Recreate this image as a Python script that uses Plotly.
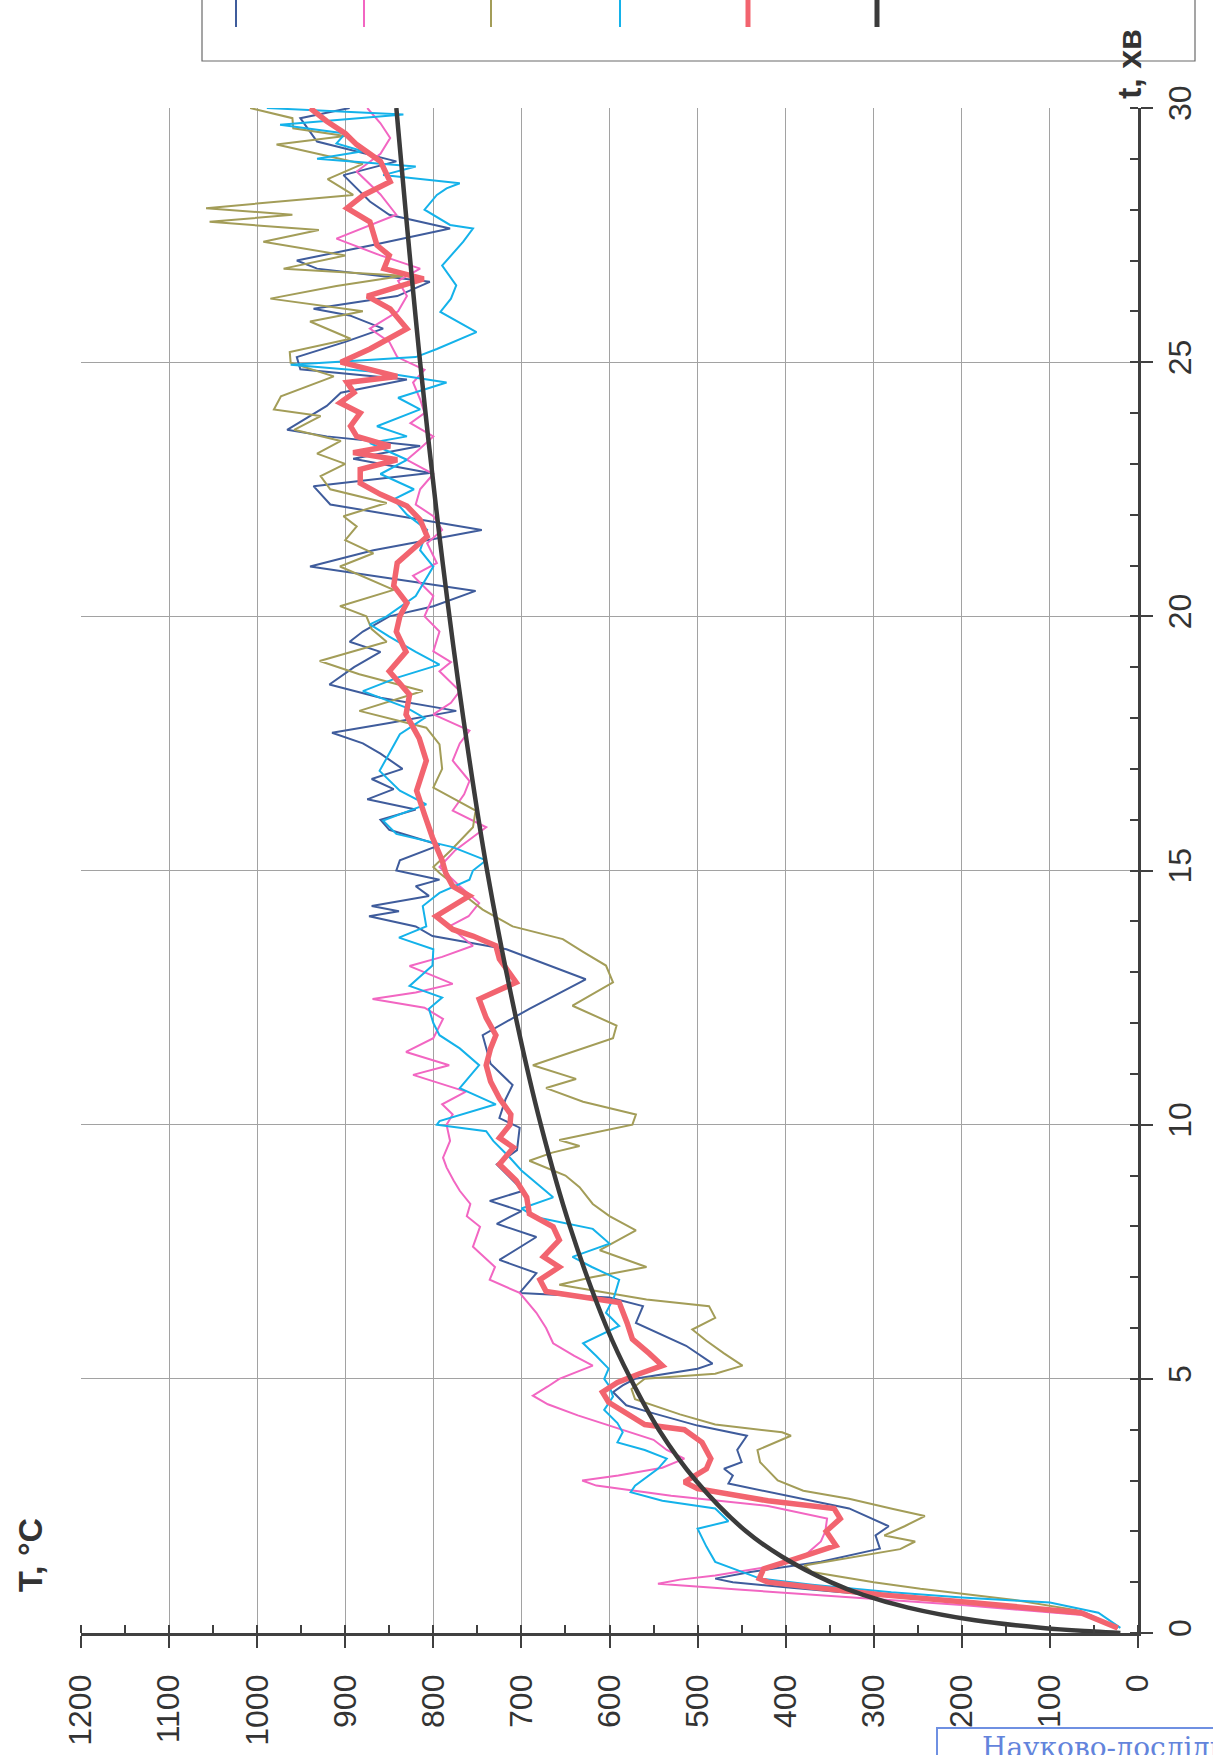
import plotly.graph_objects as go

# ---------------- data ----------------
# time, min  /  temperature, °C
t_blue = [0.1, 0.4, 0.6, 0.75, 0.9, 1.0, 1.07, 1.2, 1.4, 1.66, 1.92, 2.1, 2.45, 2.7, 2.94, 3.1, 3.23, 3.36, 3.6, 3.88,
          4.08, 4.35, 4.48, 4.74, 4.87, 5.0, 5.2, 5.3, 5.65, 6.1, 6.43, 6.6, 6.69, 7.08, 7.34, 7.79, 8.05, 8.3, 8.5, 8.7,
          9.0, 9.22, 9.5, 9.94, 10.13, 10.5, 10.78, 11.2, 11.76, 12.28, 12.86, 13.45, 13.71, 13.9, 14.1, 14.2, 14.3, 14.5,
          14.69, 14.82, 15.0, 15.2, 15.5, 15.8, 16.0, 16.2, 16.4, 16.6, 16.8, 17.0, 17.3, 17.5, 17.71, 17.9, 18.14, 18.4,
          18.66, 19.0, 19.3, 19.5, 19.7, 20.0, 20.2, 20.5, 20.98, 21.3, 21.7, 22.2, 22.56, 22.82, 23.1, 23.35, 23.54,
          23.67, 24.14, 24.4, 24.66, 24.86, 25.1, 25.4, 25.66, 25.92, 26.05, 26.3, 26.58, 26.84, 27.0, 27.3, 27.63,
          27.9, 28.16, 28.68, 28.95, 29.34, 29.8, 30.0]
T_blue = [23, 60, 180, 300, 400, 460, 480, 440, 360, 293, 298, 283, 328, 400, 465, 460, 470, 450, 455, 444,
          500, 556, 581, 596, 585, 571, 500, 483, 513, 570, 562, 600, 702, 683, 725, 683, 728, 700, 736, 698,
          715, 728, 705, 702, 725, 718, 710, 735, 744, 691, 627, 717, 801, 820, 873, 839, 870, 805,
          820, 793, 842, 838, 793, 850, 860, 820, 875, 845, 870, 835, 860, 880, 915, 850, 774, 860,
          918, 890, 860, 895, 880, 850, 800, 752, 940, 868, 745, 917, 936, 804, 891, 815, 921,
          966, 921, 905, 830, 951, 955, 900, 857, 895, 936, 841, 804, 932, 955, 870, 781,
          850, 872, 902, 842, 932, 951, 895]

t_pink = [0.1, 0.35, 0.55, 0.7, 0.85, 0.97, 1.05, 1.13, 1.3, 1.5, 1.8, 2.0, 2.25, 2.5, 2.7, 2.9, 3.0, 3.1, 3.25, 3.43,
          3.6, 3.8, 4.08, 4.28, 4.5, 4.67, 4.85, 5.0, 5.26, 5.45, 5.7, 6.0, 6.3, 6.69, 6.95, 7.2, 7.47, 7.6, 7.99, 8.2,
          8.44, 8.7, 8.9, 9.16, 9.35, 9.68, 10.0, 10.2, 10.4, 10.65, 10.98, 11.17, 11.43, 11.7, 12.08, 12.3, 12.47,
          12.6, 12.77, 13.12, 13.3, 13.52, 13.9, 14.1, 14.36, 14.69, 15.07, 15.4, 15.85, 16.18, 16.5, 16.76, 17.16,
          17.5, 17.75, 18.07, 18.3, 18.53, 18.92, 19.1, 19.31, 19.7, 20.0, 20.4, 20.8, 21.05, 21.44, 21.7, 21.97,
          22.2, 22.5, 22.8, 23.08, 23.3, 23.54, 23.8, 24.0, 24.27, 24.6, 24.85, 25.1, 25.4, 25.66, 26.0, 26.3, 26.6,
          26.84, 27.1, 27.43, 27.7, 27.9, 28.3, 28.75, 29.1, 29.41, 29.7, 30.0]
T_pink = [23, 60, 200, 330, 450, 545, 520, 480, 420, 380, 360, 355, 353, 420, 530, 615, 631, 590, 540, 515,
          535, 550, 601, 636, 670, 687, 670, 657, 619, 640, 664, 672, 683, 702, 736, 730, 747, 755, 747, 762,
          758, 770, 777, 785, 789, 781, 785, 778, 790, 763, 823, 782, 831, 800, 789, 810, 869,
          820, 778, 827, 790, 755, 782, 760, 748, 770, 793, 775, 740, 778, 765, 759, 778,
          770, 759, 800, 780, 770, 793, 780, 800, 793, 810, 800, 823, 796, 807, 790, 800,
          820, 815, 800, 830, 815, 800, 826, 810, 815, 823, 810, 841, 850, 872, 840, 830, 840,
          815, 860, 910, 870, 842, 860, 887, 860, 849, 860, 875]

t_olive = [0.1, 0.45, 0.65, 0.8, 0.87, 1.0, 1.2, 1.33, 1.5, 1.65, 1.8, 1.92, 2.1, 2.3, 2.44, 2.64, 2.8, 3.0, 3.2, 3.36,
           3.6, 3.88, 3.95, 4.1, 4.3, 4.6, 4.8, 5.0, 5.1, 5.26, 5.5, 5.75, 5.97, 6.2, 6.43, 6.56, 6.85, 7.0, 7.2, 7.53,
           7.92, 8.2, 8.44, 8.77, 9.0, 9.29, 9.45, 9.58, 9.7, 10.0, 10.2, 10.45, 10.72, 10.9, 11.17, 11.45, 11.7,
           11.95, 12.34, 12.8, 13.13, 13.4, 13.65, 13.9, 14.23, 14.49, 14.7, 14.95, 15.07, 15.4, 15.85, 16.18, 16.63,
           17.0, 17.48, 17.81, 18.14, 18.53, 18.86, 19.12, 19.5, 19.75, 20.0, 20.2, 20.52, 20.98, 21.24, 21.5, 21.77,
           21.97, 22.23, 22.5, 22.76, 23.0, 23.2, 23.45, 23.67, 23.94, 24.07, 24.33, 24.72, 24.99, 25.2, 25.46, 25.8,
           26.0, 26.25, 26.5, 26.7, 26.84, 27.1, 27.37, 27.6, 27.76, 27.9, 28.03, 28.29, 28.6, 28.9, 29.28, 29.45,
           29.6, 29.8, 30.0]
T_olive = [23, 70, 140, 210, 247, 300, 370, 379, 320, 270, 253, 288, 265, 242, 278, 328, 380, 409, 420, 429,
           432, 394, 404, 480, 520, 571, 575, 560, 480, 449, 470, 490, 506, 480, 487, 558, 657, 620, 558, 611,
           570, 600, 619, 634, 650, 691, 665, 634, 657, 574, 570, 630, 672, 638, 687, 640, 596,
           592, 642, 596, 604, 630, 653, 710, 744, 763, 775, 793, 800, 780, 755, 752, 800,
           790, 793, 808, 884, 812, 884, 929, 853, 870, 876, 906, 845, 906, 868, 900, 887,
           902, 853, 917, 928, 900, 932, 905, 958, 928, 981, 973, 913, 962, 963, 894, 940,
           880, 985, 910, 834, 970, 900, 993, 930, 1054, 960, 1058, 891, 920, 880, 978, 900,
           959, 960, 1008]

t_cyan = [0.1, 0.4, 0.6, 0.7, 0.8, 0.95, 1.07, 1.4, 1.7, 2.05, 2.2, 2.45, 2.6, 2.77, 2.9, 3.1, 3.23, 3.43, 3.6, 3.75,
          3.95, 4.13, 4.39, 4.65, 4.85, 5.0, 5.2, 5.45, 5.7, 6.04, 6.3, 6.6, 6.95, 7.2, 7.4, 7.66, 7.95, 8.18, 8.35,
          8.57, 8.9, 9.1, 9.35, 9.68, 9.87, 10.0, 10.07, 10.4, 10.72, 11.17, 11.5, 11.76, 12.0, 12.28, 12.5, 12.73,
          13.13, 13.45, 13.68, 13.9, 14.3, 14.56, 14.82, 15.0, 15.2, 15.46, 15.72, 15.98, 16.3, 16.57, 16.96, 17.3,
          17.68, 18.0, 18.2, 18.53, 18.8, 19.05, 19.3, 19.6, 19.84, 20.0, 20.4, 20.98, 21.3, 21.7, 22.0, 22.3, 22.5,
          22.8, 23.08, 23.41, 23.54, 23.74, 24.07, 24.3, 24.6, 24.8, 24.95, 25.1, 25.26, 25.59, 25.99, 26.25, 26.51,
          26.9, 27.37, 27.63, 27.7, 28.0, 28.29, 28.42, 28.52, 28.68, 28.85, 29.0, 29.15, 29.3, 29.5, 29.67, 29.87,
          30.0]
T_cyan = [20, 45, 100, 200, 280, 370, 429, 480, 490, 500, 465, 480, 540, 576, 571, 555, 545, 535, 560, 591,
          585, 591, 606, 596, 600, 606, 601, 615, 630, 589, 604, 595, 589, 620, 642, 600, 619, 683, 700,
          664, 687, 700, 713, 732, 740, 796, 793, 729, 770, 748, 770, 793, 800, 805, 790, 827,
          801, 800, 839, 808, 812, 793, 759, 755, 740, 778, 842, 857, 808, 838, 861, 850,
          838, 810, 830, 880, 840, 793, 820, 850, 872, 853, 820, 800, 815, 807, 830, 845, 822,
          860, 830, 872, 830, 864, 815, 840, 785, 860, 962, 820, 796, 751, 792, 780, 774,
          790, 766, 755, 781, 810, 796, 785, 770, 857, 820, 932, 880, 910, 900, 974, 834,
          989]

t_red = [0.1, 0.4, 0.6, 0.75, 0.9, 1.0, 1.07, 1.26, 1.46, 1.72, 2.0, 2.25, 2.45, 2.6, 2.84, 2.97, 3.23, 3.43, 3.75, 4.0,
         4.1, 4.54, 4.74, 4.93, 5.1, 5.26, 5.5, 5.78, 6.1, 6.36, 6.5, 6.72, 6.95, 7.2, 7.4, 7.73, 7.99, 8.25, 8.57, 8.9,
         9.22, 9.55, 9.74, 10.0, 10.2, 10.52, 10.85, 11.17, 11.5, 11.76, 12.1, 12.47, 12.8, 13.26, 13.52, 13.71, 13.84,
         14.1, 14.36, 14.5, 14.69, 14.95, 15.2, 15.65, 16.1, 16.57, 17.16, 17.6, 18.07, 18.46, 18.92, 19.3, 19.7, 20.0,
         20.26, 20.6, 21.05, 21.3, 21.57, 21.9, 22.17, 22.4, 22.62, 22.89, 23.08, 23.22, 23.35, 23.54, 23.74, 24.0,
         24.2, 24.4, 24.6, 24.72, 25.0, 25.26, 25.66, 26.05, 26.3, 26.64, 26.84, 27.1, 27.3, 27.76, 28.03, 28.29,
         28.55, 28.95, 29.28, 29.5, 29.74, 30.0]
T_red = [23, 65, 190, 290, 370, 420, 430, 425, 389, 343, 354, 338, 345, 420, 500, 515, 490, 485, 495, 515,
         560, 601, 608, 591, 566, 540, 555, 574, 580, 585, 589, 672, 679, 657, 675, 657, 664, 691, 694, 706,
         725, 709, 725, 713, 712, 725, 735, 740, 735, 729, 740, 748, 706, 725, 729, 755, 778,
         797, 774, 759, 778, 786, 790, 801, 810, 819, 808, 816, 831, 827, 850, 831, 842, 838,
         830, 845, 841, 825, 807, 815, 830, 860, 883, 883, 841, 891, 849, 887, 894, 883,
         906, 890, 898, 841, 905, 872, 830, 849, 875, 811, 856, 850, 864, 872, 898, 879,
         849, 860, 887, 900, 921, 940]

t_std = [0, 0.03, 0.1, 0.25, 0.5, 0.75, 1, 1.5, 2, 3, 4, 5, 6, 8, 10, 12, 15, 18, 21, 25, 30]
T_std = [20, 50, 108, 185, 261, 312, 349, 404, 445, 502, 544, 576, 603, 645, 678, 705, 739, 766, 789, 815, 842]

T_ticks = list(range(0, 1201, 100))
t_ticks = list(range(0, 31, 5))

# ---------------- styling ----------------
C_BLUE, C_PINK, C_OLIVE, C_CYAN, C_RED, C_STD = "#3f5c9c", "#f266c2", "#a39d58", "#14b2ea", "#f2646f", "#3b3b3b"
AX = "#404040"
GRID = "#a2a2a2"
FONT = "Liberation Sans, Arial, sans-serif"

series = [
    (t_blue, T_blue, C_BLUE, 2.0, "linear"),
    (t_pink, T_pink, C_PINK, 2.0, "linear"),
    (t_olive, T_olive, C_OLIVE, 2.0, "linear"),
    (t_cyan, T_cyan, C_CYAN, 2.0, "linear"),
    (t_red, T_red, C_RED, 5.5, "linear"),
    (t_std, T_std, C_STD, 4.5, "spline"),
]

fig = go.Figure()
for tt, TT, col, w, shp in series:
    fig.add_trace(go.Scatter(x=TT, y=tt, mode="lines",
                             line=dict(color=col, width=w, shape=shp),
                             showlegend=False, hoverinfo="skip"))

W, H = 1213, 1755
L, R, TOP, B = 81, 75, 108, 122

fig.update_layout(
    width=W, height=H,
    margin=dict(l=L, r=R, t=TOP, b=B, autoexpand=False),
    paper_bgcolor="white", plot_bgcolor="white",
    font=dict(family=FONT, color="#333333"),
    showlegend=False,
)

fig.update_xaxes(
    range=[1200, 0], tickmode="array", tickvals=T_ticks, ticktext=[str(v) for v in T_ticks],
    tickangle=-90, tickfont=dict(size=32, family=FONT, color="#333333"),
    ticks="outside", ticklen=12, tickwidth=2, tickcolor=AX,
    showline=True, linecolor=AX, linewidth=2.5,
    showgrid=True, gridcolor=GRID, gridwidth=1, zeroline=False,
    minor=dict(dtick=50, tick0=0, ticks="inside", ticklen=8, tickwidth=2, tickcolor=AX, showgrid=False),
    automargin=False, ticklabelstandoff=14,
)
fig.update_yaxes(
    range=[0, 30], side="right", tickmode="array", tickvals=t_ticks, ticktext=[str(v) for v in t_ticks],
    tickangle=-90, tickfont=dict(size=32, family=FONT, color="#333333"),
    ticks="outside", ticklen=12, tickwidth=2, tickcolor=AX,
    showline=True, linecolor=AX, linewidth=2.5,
    showgrid=True, gridcolor=GRID, gridwidth=1, zeroline=False,
    minor=dict(dtick=1, tick0=0, ticks="inside", ticklen=8, tickwidth=2, tickcolor=AX, showgrid=False),
    automargin=False, ticklabelstandoff=0,
)

pw, ph = W - L - R, H - TOP - B
def px(xp):  # pixel -> paper x
    return (xp - L) / pw
def py(yp):  # pixel -> paper y
    return (H - B - yp) / ph

shapes = []
# legend frame (its labels lie above the cropped page)
shapes.append(dict(type="rect", xref="paper", yref="paper", x0=px(202), x1=px(1195), y0=py(61), y1=py(-20),
                   line=dict(color="#6a6a6a", width=1.2), fillcolor="rgba(0,0,0,0)", layer="above"))
leg = [(236, C_BLUE, 2), (364, C_PINK, 2), (491, C_OLIVE, 2), (620, C_CYAN, 2), (748, C_RED, 5), (877, C_STD, 5)]
for xx, col, w in leg:
    shapes.append(dict(type="line", xref="paper", yref="paper", x0=px(xx), x1=px(xx), y0=py(27), y1=py(-5),
                       line=dict(color=col, width=w)))
# library stamp box
shapes.append(dict(type="rect", xref="paper", yref="paper", x0=px(937), x1=px(1230), y0=py(1728), y1=py(1780),
                   line=dict(color="#6f90e2", width=2), fillcolor="rgba(0,0,0,0)"))
fig.update_layout(shapes=shapes)

fig.add_annotation(text="<b>T, °C</b>", xref="paper", yref="paper", x=px(30), y=py(1555),
                   showarrow=False, textangle=-90, font=dict(size=34, family=FONT, color="#333333"),
                   xanchor="center", yanchor="middle")
fig.add_annotation(text="<b>t, хв</b>", xref="paper", yref="paper", x=px(1129), y=py(64),
                   showarrow=False, textangle=-90, font=dict(size=34, family=FONT, color="#333333"),
                   xanchor="center", yanchor="middle")
fig.add_annotation(text="Науково-дослідн", xref="paper", yref="paper", x=px(980), y=py(1729),
                   showarrow=False, font=dict(size=28, family="DejaVu Serif, serif", color="#6384dc"),
                   xanchor="left", yanchor="top")

fig.write_html("out.html")
